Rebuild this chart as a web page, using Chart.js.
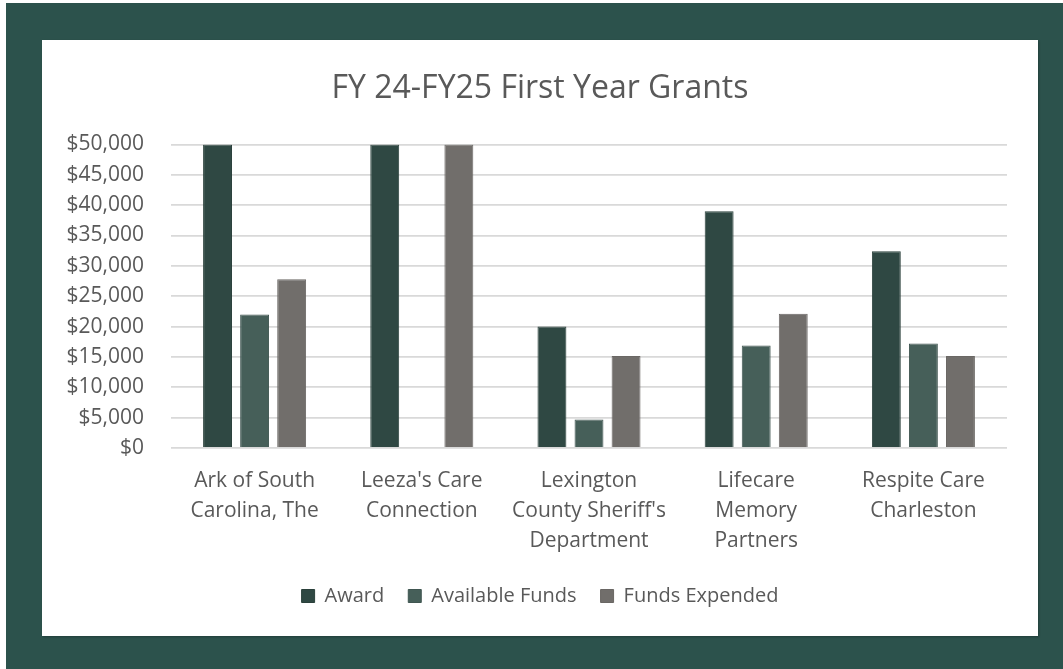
<!DOCTYPE html>
<html>
<head>
<meta charset="utf-8">
<script src="https://cdn.jsdelivr.net/npm/chart.js@4"></script>
<style>
    html, body { margin: 0; padding: 0; background: #ffffff; }
    .frame { position: absolute; left: 6px; top: 3px; width: 1057px; height: 666px; background: #2c524c; }
    .panel { position: absolute; left: 42px; top: 40px; width: 996px; height: 596px; background: #ffffff;
             box-shadow: 1px 1px 2px rgba(0,0,0,0.25); }
</style>
</head>
<body>
<div class="frame"></div>
<div class="panel"><canvas id="grantsChart" width="996" height="596"></canvas></div>
<script>
// Chart data
var categories = [
    ['Ark of South', 'Carolina, The'],
    ["Leeza's Care", 'Connection'],
    ['Lexington', "County Sheriff's", 'Department'],
    ['Lifecare', 'Memory', 'Partners'],
    ['Respite Care', 'Charleston']
];
var award = [50000, 50000, 20000, 39000, 32400];
var availableFunds = [22000, 0, 4700, 16900, 17200];
var fundsExpended = [27800, 50000, 15150, 22100, 15150];
var yTicks = [0, 5000, 10000, 15000, 20000, 25000, 30000, 35000, 40000, 45000, 50000];

var textColor = '#595959';
var fontFamily = "'Open Sans', sans-serif";

var ctx = document.getElementById('grantsChart');

new Chart(ctx, {
    type: 'bar',
    data: {
        labels: categories,
        datasets: [
            { label: 'Award', data: award, backgroundColor: '#2f4843', borderColor: '#2a403b', borderWidth: 1 },
            { label: 'Available Funds', data: availableFunds, backgroundColor: '#465f59', borderColor: '#405651', borderWidth: 1 },
            { label: 'Funds Expended', data: fundsExpended, backgroundColor: '#716e6b', borderColor: '#6a6764', borderWidth: 1 }
        ]
    },
    options: {
        responsive: false,
        animation: false,
        layout: { padding: { left: 0, right: 0, top: 0, bottom: 20 } },
        datasets: {
            bar: { categoryPercentage: 0.665, barPercentage: 0.78 }
        },
        plugins: {
            title: {
                display: true,
                text: 'FY 24-FY25 First Year Grants',
                color: textColor,
                font: { family: fontFamily, size: 32, weight: 'normal', lineHeight: 1.2 },
                padding: { top: 30, bottom: 36 }
            },
            legend: {
                position: 'bottom',
                labels: {
                    color: textColor,
                    font: { family: fontFamily, size: 20 },
                    boxWidth: 13,
                    boxHeight: 13,
                    padding: 24
                }
            },
            tooltip: { enabled: false }
        },
        scales: {
            x: {
                grid: { display: false, drawTicks: false },
                border: { display: false },
                ticks: {
                    color: textColor,
                    font: { family: fontFamily, size: 21, lineHeight: 1.43 },
                    padding: 18,
                    maxRotation: 0,
                    autoSkip: false
                },
                afterFit: function(scale) { scale.height = 114; }
            },
            y: {
                min: 0,
                max: 50000,
                grid: { color: '#d9d9d9', lineWidth: 1.8, drawTicks: false },
                border: { display: false },
                afterBuildTicks: function(scale) {
                    scale.ticks = yTicks.map(function(v) { return { value: v }; });
                },
                ticks: {
                    color: textColor,
                    font: { family: fontFamily, size: 21 },
                    padding: 27,
                    callback: function(value) { return '$' + value.toLocaleString('en-US'); }
                },
                afterFit: function(scale) { scale.width = 129; }
            },
            // empty right axis, only keeps the right margin so the title stays centred on the panel
            yRight: {
                position: 'right',
                min: 0,
                max: 50000,
                grid: { display: false, drawTicks: false },
                border: { display: false },
                ticks: { display: false },
                afterFit: function(scale) { scale.width = 31; }
            }
        }
    }
});
</script>
</body>
</html>
